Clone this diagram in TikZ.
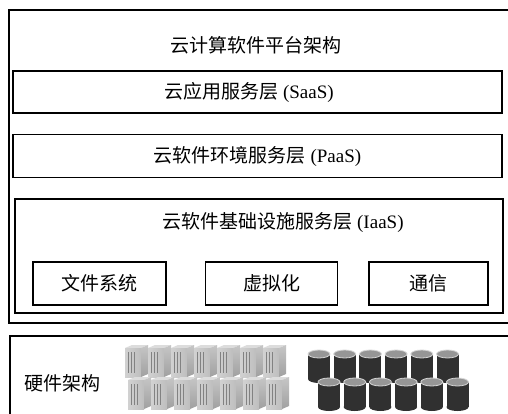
\documentclass[tikz,border=0pt]{standalone}
\usepackage{fontspec}
\setmainfont{Liberation Serif}
\newfontfamily\cjk{Noto Sans CJK SC}
\usetikzlibrary{positioning,calc}
\definecolor{diskbody}{RGB}{48,48,48}
\definecolor{disktop}{RGB}{150,150,150}
\definecolor{diskrim}{RGB}{215,215,215}
\definecolor{srvfront}{RGB}{190,190,190}
\definecolor{srvside}{RGB}{160,160,160}
\definecolor{srvtop}{RGB}{220,220,220}
\definecolor{srvslot}{RGB}{130,130,130}
\tikzset{
  layerbox/.style={rectangle,draw=black,line width=1.6pt,inner sep=0pt},
  modbox/.style={layerbox,minimum height=43pt},
  lbl/.style={font=\fontsize{19}{22}\selectfont,inner sep=0pt},
  server/.pic={
    \fill[srvtop] (0,3) -- (7,0) -- (23,0) -- (16,3) -- cycle;
    \shade[left color=srvfront!70,right color=srvfront] (0,3) rectangle (16,32);
    \shade[top color=srvside!60,bottom color=srvside] (16,3) -- (23,0) -- (23,29) -- (16,32) -- cycle;
    \foreach \s in {3,6,9}
      \draw[srvslot,line width=0.5pt] (\s,7) -- (\s,28);
  },
  disk/.pic={
    \fill[diskbody] (-11,4) rectangle (11,29);
    \fill[diskbody] (0,29) ellipse[x radius=11,y radius=4];
    \fill[disktop] (0,4) ellipse[x radius=11,y radius=4];
    \draw[diskrim,line width=0.8pt] (0,4) ellipse[x radius=11,y radius=4];
  }
}

\begin{document}
\begin{tikzpicture}[x=1pt,y=-1pt]
  \useasboundingbox (0,0) rectangle (508,414);
  \clip (0,0) rectangle (508,414);
  \fill[white] (0,0) rectangle (508,414);

  %% software platform
  \node[layerbox,minimum width=506pt,minimum height=313pt] (platform) at (262,166.5) {};
  \node[lbl] (title) at (256,45) {\cjk 云计算软件平台架构};

  \node[layerbox,minimum width=489pt,minimum height=42pt] (saas) at (257.5,92) {};
  \node[lbl] (saaslbl) at (249,92) {{\cjk 云应用服务层} (SaaS)};

  \node[layerbox,minimum width=489pt,minimum height=43pt,below=20pt of saas] (paas) {};
  \node[lbl] (paaslbl) at (paas) {{\cjk 云软件环境服务层} (PaaS)};

  \node[layerbox,minimum width=488pt,minimum height=114pt] (iaas) at (259,256) {};
  \node[lbl] (iaaslbl) at (283,223) {{\cjk 云软件基础设施服务层} (IaaS)};

  %% IaaS modules
  \node[modbox,minimum width=133pt] (fs) at (99.5,283.5) {};
  \node[modbox,minimum width=132pt,right=38pt of fs] (virt) {};
  \node[modbox,minimum width=119pt,right=30pt of virt] (comm) {};
  \node[lbl] at (fs) {\cjk 文件系统};
  \node[lbl] at (virt) {\cjk 虚拟化};
  \node[lbl] at (comm) {\cjk 通信};

  %% hardware
  \node[layerbox,minimum width=505pt,minimum height=96pt] (hw) at (262.5,384) {};
  \node[lbl] (hwlbl) at (62,383) {\cjk 硬件架构};

  \foreach \i in {0,...,6}
    \pic at ({125+23*\i},345) {server};
  \foreach \i in {0,...,6}
    \pic at ({128+23*\i},377) {server};

  \foreach \i in {0,...,5}
    \pic at ({319+25.7*\i},350) {disk};
  \foreach \i in {0,...,5}
    \pic at ({329+25.7*\i},378) {disk};
\end{tikzpicture}
\end{document}
